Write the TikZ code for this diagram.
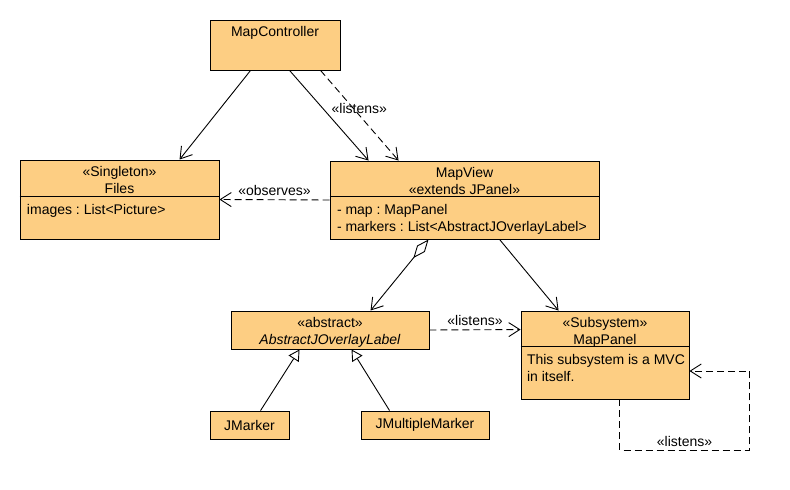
\documentclass[tikz,border=0pt]{standalone}
\usepackage{fontspec}
\setmainfont{Liberation Sans}
\usepackage{tikz}
\usetikzlibrary{arrows.meta, positioning}
\definecolor{umlfill}{RGB}{253,206,131}
\frenchspacing
\begin{document}
\begin{tikzpicture}[x=1pt, y=-1pt, line width=0.9pt,
  font=\fontsize{14pt}{17pt}\selectfont,
  cls/.style={draw, fill=umlfill, inner sep=0pt},
  clsname/.style={align=center, inner sep=0pt},
  attrs/.style={align=left, inner sep=0pt, anchor=north west},
  assoc/.style={-{Straight Barb[length=11pt, width=14pt]}},
  dep/.style={assoc, dash pattern=on 7pt off 4pt},
  inherit/.style={-{Triangle[open, fill=white, length=11pt, width=12pt]}},
  aggr/.style={{Diamond[open, fill=white, length=24pt, width=10pt]}-{Straight Barb[length=11pt, width=14pt]}}]
\useasboundingbox (0,0) rectangle (790,490);
\node[cls, minimum width=130pt, minimum height=50pt] (ctrl) at (275,45) {};
\node[clsname, below=6.5pt of ctrl.north] (ctrlname) {MapController};
%
\node[cls, minimum width=199pt, minimum height=79pt] (files) at (119.5,199.5) {};
\node[clsname, below=6.5pt of files.north] (filesname) {«Singleton»\\Files};
\draw ([yshift=-37pt]files.north west) -- ([yshift=-37pt]files.north east);
\node[attrs] (filesattr) at ([xshift=7pt, yshift=-44pt]files.north west) {images : List<Picture>};
%
\node[cls, minimum width=269pt, minimum height=78pt] (view) at (464.5,200) {};
\node[clsname, below=6.5pt of view.north] (viewname) {MapView\\«extends JPanel»};
\draw ([yshift=-36pt]view.north west) -- ([yshift=-36pt]view.north east);
\node[attrs] (viewattr) at ([xshift=7pt, yshift=-43pt]view.north west) {- map : MapPanel\\- markers : List<AbstractJOverlayLabel>};
%
\node[cls, minimum width=198pt, minimum height=38pt] (overlay) at (330,330) {};
\node[clsname, below=6.5pt of overlay.north] (overlayname) {«abstract»\\\textit{AbstractJOverlayLabel}};
%
\node[cls, minimum width=168pt, minimum height=88pt] (panel) at (605,355) {};
\node[clsname, below=6.5pt of panel.north] (panelname) {«Subsystem»\\MapPanel};
\draw ([yshift=-36pt]panel.north west) -- ([yshift=-36pt]panel.north east);
\node[attrs] (panelattr) at ([xshift=6pt, yshift=-43pt]panel.north west) {This subsystem is a MVC\\in itself.};
%
\node[cls, minimum width=79pt, minimum height=28pt] (marker) at (249.5,425) {JMarker};
\node[cls, minimum width=128pt, minimum height=28pt] (multi) at (425,425) {JMultipleMarker};
%
\draw[assoc] ([xshift=41pt]ctrl.south west) -- ([xshift=160pt]files.north west);
\draw[assoc] ([xshift=80pt]ctrl.south west) -- ([xshift=39pt]view.north west);
\draw[dep] ([xshift=111pt]ctrl.south west) -- ([xshift=69pt]view.north west) node[pos=0.42, xshift=6pt]{«listens»};
\draw[dep] (view.west) -- (files.east) node[midway, above]{«observes»};
\draw[aggr] ([xshift=99pt]view.south west) -- ([xshift=140pt]overlay.north west);
\draw[assoc] ([xshift=170pt]view.south west) -- ([xshift=38pt]panel.north west);
\draw[dep] (overlay.east) -- ([yshift=-19pt]panel.north west) node[midway, above]{«listens»};
\draw[inherit] ([xshift=51pt]marker.north west) -- ([xshift=69pt]overlay.south west);
\draw[inherit] ([xshift=29pt]multi.north west) -- ([xshift=121pt]overlay.south west);
\draw[dep] ([xshift=99pt]panel.south west) -- ++(0,51) -- ++(130,0) node[midway, above]{«listens»} |- ([yshift=-16pt]panel.east);
\end{tikzpicture}
\end{document}
